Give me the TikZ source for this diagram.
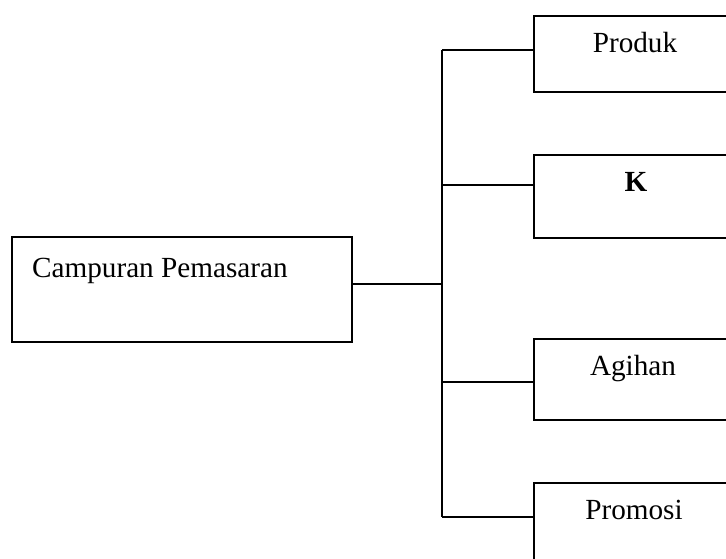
\documentclass[tikz,border=0pt]{standalone}
\usepackage{fontspec}
\setmainfont{Liberation Serif}
\begin{document}
\begin{tikzpicture}[x=1pt,y=-1pt,
  box/.style={draw, line width=1.7pt, inner sep=0pt, anchor=north west},
  conn/.style={line width=1.7pt},
  lbl/.style={anchor=base, inner sep=0pt, font=\fontsize{29.2}{34}\selectfont}]
\useasboundingbox (0,0) rectangle (726,559);
\clip (0,0) rectangle (726,559);
% boxes
\node[box, minimum width=340pt, minimum height=105pt] (cp) at (11,236) {};
\node[box, minimum width=210pt, minimum height=76pt] (pr) at (533,15) {};
\node[box, minimum width=210pt, minimum height=83pt] (kk) at (533,154) {};
\node[box, minimum width=210pt, minimum height=81pt] (ag) at (533,338) {};
\node[box, minimum width=210pt, minimum height=100pt] (pm) at (533,482) {};
% labels
\node[lbl, anchor=base west] (tcp) at (32,277) {Campuran Pemasaran};
\node[lbl] (tpr) at (635,53) {Produk};
\node[lbl, font=\fontsize{29.2}{34}\selectfont\bfseries] (tkk) at (636,192) {K};
\node[lbl] (tag) at (633,375) {Agihan};
\node[lbl] (tpm) at (634,519) {Promosi};
% connectors
\coordinate (j1) at (442,50);
\coordinate (j2) at (442,185);
\coordinate (jm) at (442,284);
\coordinate (j3) at (442,382);
\coordinate (j4) at (442,517);
\draw[conn] (j1) -- (j4);
\draw[conn] (jm -| cp.east) -- (jm);
\draw[conn] (j1) -- (j1 -| pr.west);
\draw[conn] (j2) -- (j2 -| kk.west);
\draw[conn] (j3) -- (j3 -| ag.west);
\draw[conn] (j4) -- (j4 -| pm.west);
\end{tikzpicture}
\end{document}
